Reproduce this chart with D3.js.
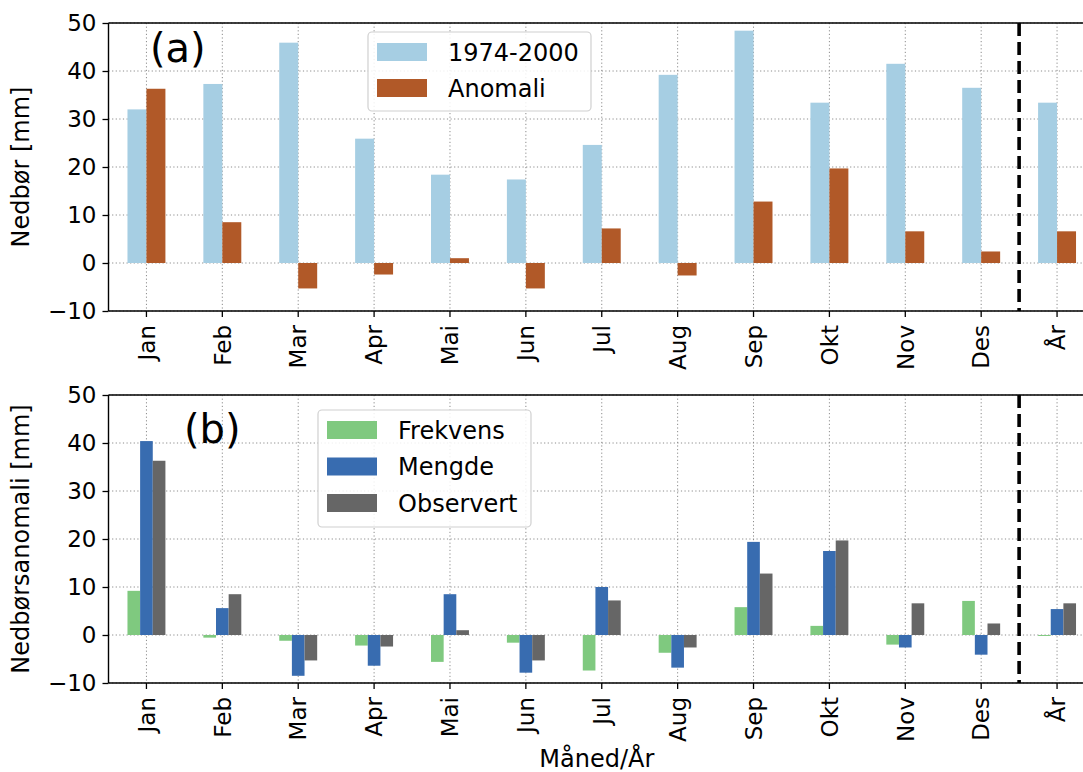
<!DOCTYPE html>
<html>
<head>
<meta charset="utf-8">
<script src="https://cdn.jsdelivr.net/npm/d3@7"></script>
<style>
  html, body { margin: 0; padding: 0; background: #fff; overflow: hidden; }
  svg { display: block; font-family: "DejaVu Sans", sans-serif; }
</style>
</head>
<body>
<svg id="chart" width="1083" height="772"></svg>
<script>
// Monthly precipitation (mm) and its anomaly, plus decomposition of the anomaly
const categories = ["Jan", "Feb", "Mar", "Apr", "Mai", "Jun", "Jul", "Aug", "Sep", "Okt", "Nov", "Des", "År"];
const normal = [32.0, 37.3, 45.9, 25.9, 18.4, 17.4, 24.6, 39.2, 48.4, 33.4, 41.5, 36.5, 33.4];
const observed = [36.3, 8.5, -5.3, -2.4, 1.0, -5.3, 7.2, -2.6, 12.8, 19.7, 6.6, 2.4, 6.6];
const frequency = [9.2, -0.55, -1.2, -2.2, -5.6, -1.6, -7.4, -3.7, 5.8, 1.9, -2.0, 7.1, -0.2];
const amount = [40.4, 5.6, -8.5, -6.4, 8.5, -7.85, 10.0, -6.8, 19.4, 17.5, -2.6, -4.1, 5.4];
const yTicks = [-10, 0, 10, 20, 30, 40, 50];

const topSeries = [
  { name: "1974-2000", values: normal, color: "#a6cee3" },
  { name: "Anomali", values: observed, color: "#b15928" }
];
const bottomSeries = [
  { name: "Frekvens", values: frequency, color: "#7fc97f" },
  { name: "Mengde", values: amount, color: "#386cb0" },
  { name: "Observert", values: observed, color: "#666666" }
];

const svg = d3.select("#chart");
const left = 108.5, right = 1095;
const fontTick = 23, fontLabel = 24;

const x = d3.scaleBand().domain(categories).range([left, right]).padding(0);

function panel(top, bottom, series, yLabel, tag, tagPos, legendBox) {
  const g = svg.append("g");
  const y = d3.scaleLinear().domain([-10, 50]).range([bottom, top]);
  const inner = d3.scaleBand()
    .domain(series.map(s => s.name))
    .range([-x.bandwidth() / 4, x.bandwidth() / 4])
    .padding(0);

  // grid
  const grid = g.append("g").attr("stroke", "#8c8c8c").attr("stroke-width", 1)
    .attr("stroke-dasharray", "1.2,2.4");
  yTicks.forEach(t => {
    grid.append("line").attr("x1", left).attr("x2", right)
      .attr("y1", y(t)).attr("y2", y(t));
  });
  categories.forEach(c => {
    const cx = x(c) + x.bandwidth() / 2;
    grid.append("line").attr("x1", cx).attr("x2", cx).attr("y1", top).attr("y2", bottom);
  });

  // bars
  series.forEach(s => {
    g.append("g").selectAll("rect").data(s.values).join("rect")
      .attr("x", (d, i) => x(categories[i]) + x.bandwidth() / 2 + inner(s.name))
      .attr("width", inner.bandwidth())
      .attr("y", d => y(Math.max(0, d)))
      .attr("height", d => Math.abs(y(d) - y(0)))
      .attr("fill", s.color);
  });

  // separator between months and year
  const sepX = x("År");
  g.append("line").attr("x1", sepX).attr("x2", sepX).attr("y1", top).attr("y2", bottom)
    .attr("stroke", "#000").attr("stroke-width", 3.6).attr("stroke-dasharray", "13,6");

  // spines
  g.append("line").attr("x1", left).attr("x2", right).attr("y1", top).attr("y2", top)
    .attr("stroke", "#000").attr("stroke-width", 1.4);
  g.append("line").attr("x1", left).attr("x2", right).attr("y1", bottom).attr("y2", bottom)
    .attr("stroke", "#000").attr("stroke-width", 1.4);
  g.append("line").attr("x1", left).attr("x2", left).attr("y1", top).attr("y2", bottom)
    .attr("stroke", "#000").attr("stroke-width", 1.4);

  // y axis
  const yAxis = g.append("g").attr("transform", `translate(${left},0)`)
    .call(d3.axisLeft(y).tickValues(yTicks).tickSize(6).tickPadding(6));
  yAxis.select(".domain").remove();
  yAxis.selectAll("line").attr("stroke", "#000").attr("stroke-width", 1.3);
  yAxis.selectAll("text").attr("font-size", fontTick).attr("font-family", "DejaVu Sans").attr("fill", "#000");

  // x axis
  const xAxis = g.append("g").attr("transform", `translate(0,${bottom})`)
    .call(d3.axisBottom(x).tickSize(6).tickPadding(0));
  xAxis.select(".domain").remove();
  xAxis.selectAll("line").attr("stroke", "#000").attr("stroke-width", 1.3);
  xAxis.selectAll("text")
    .attr("font-size", fontTick).attr("font-family", "DejaVu Sans").attr("fill", "#000")
    .attr("text-anchor", "end")
    .attr("transform", "translate(0,14) rotate(-90)")
    .attr("x", 0).attr("y", 0).attr("dy", "0.36em");

  // y label
  g.append("text")
    .attr("transform", `translate(29,${(top + bottom) / 2}) rotate(-90)`)
    .attr("text-anchor", "middle")
    .attr("font-size", fontLabel)
    .text(yLabel);

  // panel tag
  g.append("text").attr("x", tagPos[0]).attr("y", tagPos[1])
    .attr("font-size", 40).text(tag);

  // legend
  const lg = g.append("g");
  lg.append("rect").attr("x", legendBox.x).attr("y", legendBox.y)
    .attr("width", legendBox.w).attr("height", legendBox.h)
    .attr("rx", 4).attr("fill", "#fff").attr("fill-opacity", 0.85)
    .attr("stroke", "#d0d0d0").attr("stroke-width", 1.2);
  series.forEach((s, i) => {
    const ry = legendBox.y + legendBox.first + i * legendBox.step;
    lg.append("rect").attr("x", legendBox.x + 9).attr("y", ry)
      .attr("width", 50).attr("height", 18).attr("fill", s.color);
    lg.append("text").attr("x", legendBox.x + 80).attr("y", ry + 9)
      .attr("dy", "0.36em").attr("font-size", fontLabel).text(s.name);
  });
}

panel(23, 311, topSeries, "Nedbør [mm]", "(a)", [150, 62],
  { x: 368, y: 32, w: 223, h: 79, first: 11, step: 36 });
panel(395, 683, bottomSeries, "Nedbørsanomali [mm]", "(b)", [184, 443],
  { x: 318, y: 410, w: 213, h: 117, first: 11, step: 36.5 });

// shared x label
svg.append("text").attr("x", (left + right) / 2 - 5).attr("y", 767)
  .attr("text-anchor", "middle").attr("font-size", fontLabel).text("Måned/År");
</script>
</body>
</html>
